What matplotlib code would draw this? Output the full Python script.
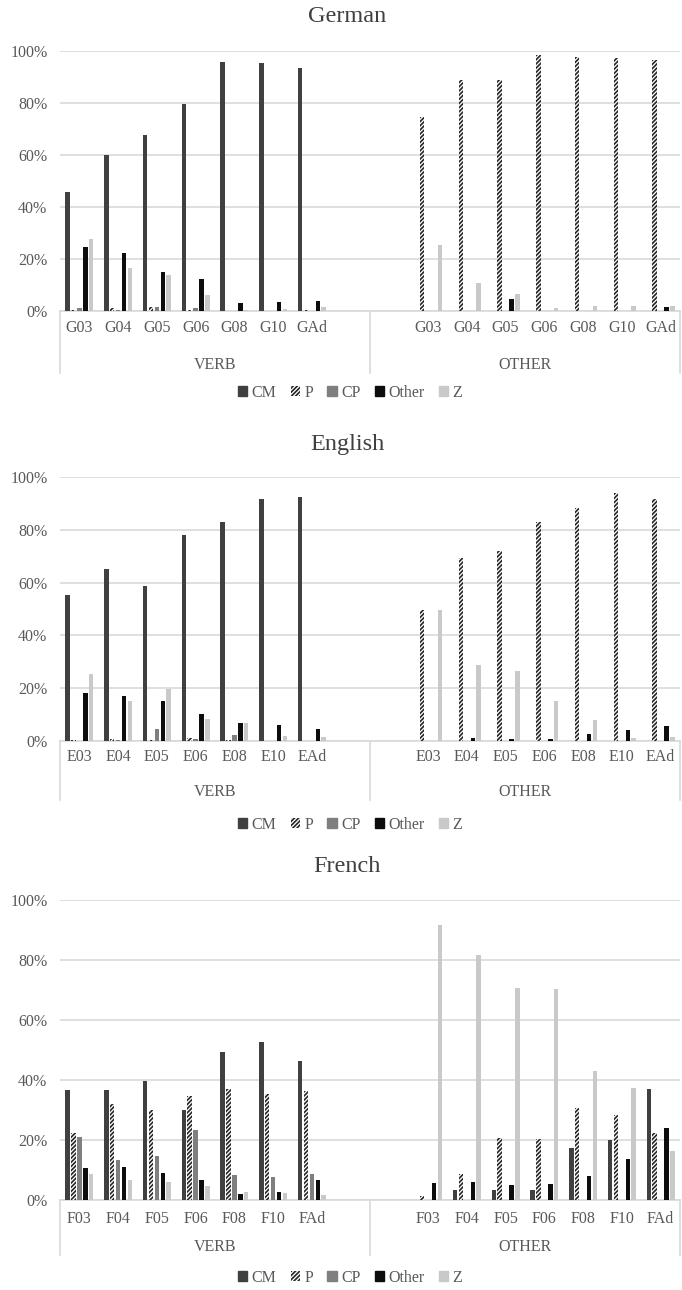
import matplotlib
matplotlib.use('Agg')
import matplotlib.pyplot as plt
from matplotlib.patches import Patch
from matplotlib.transforms import offset_copy
import numpy as np

plt.rcParams['font.family'] = ['Liberation Serif', 'DejaVu Serif']
plt.rcParams['hatch.linewidth'] = 1.2

series_names = ['CM', 'P', 'CP', 'Other', 'Z']
group_names = ['VERB', 'OTHER']

# first 7 values are VERB, last 7 are OTHER
german_labels = ['G03', 'G04', 'G05', 'G06', 'G08', 'G10', 'GAd']
german_cm = [45.7, 59.9, 67.6, 79.7, 95.9, 95.2, 93.4, 0, 0, 0, 0, 0, 0, 0]
german_p = [0.4, 1.0, 1.5, 0.5, 0, 0, 0.4, 74.6, 89.0, 89.0, 98.3, 97.7, 97.4, 96.6]
german_cp = [1.0, 0.5, 1.5, 1.2, 0, 0, 0, 0, 0, 0, 0, 0, 0, 0]
german_other = [24.6, 22.3, 15.0, 12.3, 3.0, 3.5, 4.0, 0, 0, 4.5, 0, 0, 0, 1.5]
german_z = [27.6, 16.5, 13.9, 6.1, 0.5, 0.8, 1.5, 25.2, 10.6, 6.4, 1.3, 1.8, 1.9, 1.9]

english_labels = ['E03', 'E04', 'E05', 'E06', 'E08', 'E10', 'EAd']
english_cm = [55.2, 65.0, 58.6, 78.1, 82.8, 91.6, 92.5, 0, 0, 0, 0, 0, 0, 0]
english_p = [0.5, 0.8, 0.3, 1.0, 0.3, 0, 0, 49.5, 69.2, 72.1, 83.1, 88.2, 93.9, 91.8]
english_cp = [0, 0.5, 4.7, 0.8, 2.4, 0, 0, 0, 0, 0, 0, 0, 0, 0]
english_other = [18.2, 17.2, 15.3, 10.3, 6.8, 6.0, 4.7, 0, 1.0, 0.6, 0.6, 2.8, 4.1, 5.7]
english_z = [25.2, 15.0, 19.6, 8.4, 6.9, 2.0, 1.7, 49.7, 28.7, 26.4, 15.0, 8.0, 1.3, 1.5]

french_labels = ['F03', 'F04', 'F05', 'F06', 'F08', 'F10', 'FAd']
french_cm = [36.7, 36.7, 39.8, 30.1, 49.3, 52.7, 46.4, 0, 3.3, 3.3, 3.3, 17.4, 19.9, 37.0]
french_p = [22.3, 32.1, 30.0, 34.7, 37.1, 35.2, 36.2, 1.5, 8.6, 20.7, 20.3, 30.8, 28.4, 22.2]
french_cp = [21.0, 13.2, 14.6, 23.4, 8.5, 7.8, 8.8, 0, 0, 0, 0, 0, 0, 0]
french_other = [10.8, 11.1, 9.1, 6.8, 2.0, 2.6, 6.6, 5.7, 6.0, 4.9, 5.5, 7.9, 13.7, 24.0]
french_z = [8.7, 6.6, 5.9, 4.8, 2.6, 2.3, 1.6, 91.7, 81.6, 70.7, 70.4, 42.9, 37.3, 16.2]

yticks = [0, 20, 40, 60, 80, 100]

styles = [
    dict(color='#404040'),
    dict(facecolor='white', edgecolor='#262626', hatch='////////', linewidth=0),
    dict(color='#7f7f7f'),
    dict(color='#0d0d0d'),
    dict(color='#c9c9c9'),
]

TEXT = '#595959'
GRID = '#d9d9d9'

W, H = 682, 1290
fig = plt.figure(figsize=(W / 100, H / 100), dpi=100)

# title, tick labels, series, axes top/bottom px, label/group offsets, separator length, legend y, title y
panels = [
    ('German', german_labels,
     [german_cm, german_p, german_cp, german_other, german_z], 51, 311, 17, 54, 62, 393, 16),
    ('English', english_labels,
     [english_cm, english_p, english_cp, english_other, english_z], 477, 741, 16, 51, 59, 825, 444),
    ('French', french_labels,
     [french_cm, french_p, french_cp, french_other, french_z], 900, 1200, 19, 47, 55, 1278, 867),
]

x_verb = np.arange(7)
x_other = np.arange(9, 16)
slots = np.concatenate([x_verb, x_other])
pitch = 0.152
bw = 0.116

for title, labels, data, top, bottom, lab_off, grp_off, line_len, leg_y, title_y in panels:
    ax = fig.add_axes([60 / W, 1 - bottom / H, 620 / W, (bottom - top) / H])
    for i, vals in enumerate(data):
        ax.bar(slots + (i - 2) * pitch, vals, width=bw, zorder=3, **styles[i])

    ax.set_xlim(-0.5, 15.5)
    ax.set_ylim(0, 100)
    ax.set_yticks(yticks)
    ax.set_yticklabels([f'{v}%' for v in yticks])
    ax.tick_params(axis='y', length=0, pad=9, labelsize=11.5, labelcolor=TEXT)
    ax.set_xticks([])
    ax.grid(axis='y', color=GRID, linewidth=1.2, zorder=0)
    for s in ['top', 'right', 'left']:
        ax.spines[s].set_visible(False)
    ax.spines['bottom'].set_color(GRID)
    ax.spines['bottom'].set_linewidth(1.2)

    xt = ax.get_xaxis_transform()
    for x, lab in zip(slots, labels + labels):
        ax.text(x, 0, lab, transform=offset_copy(xt, fig=fig, y=-lab_off, units='dots'),
                ha='center', va='center', fontsize=11.5, color=TEXT)
    for x, lab in zip([3.5, 11.5], group_names):
        ax.text(x, 0, lab, transform=offset_copy(xt, fig=fig, y=-grp_off, units='dots'),
                ha='center', va='center', fontsize=11.5, color=TEXT)
    # separators of the two-level category axis
    frac = line_len / (bottom - top)
    for x in [-0.5, 7.5, 15.5]:
        ax.plot([x, x], [0, -frac], transform=xt, color=GRID, linewidth=1.2, clip_on=False)

    fig.text(347 / W, 1 - title_y / H, title, ha='center', va='center',
             fontsize=17.5, color='#404040')

    handles = [Patch(**styles[i], label=series_names[i]) for i in range(5)]
    fig.legend(handles=handles, loc='center', bbox_to_anchor=(350 / W, 1 - leg_y / H),
               ncol=5, frameon=False, fontsize=11.5, handlelength=0.6, handleheight=0.6,
               handletextpad=0.25, columnspacing=0.9, labelcolor=TEXT)

plt.savefig('out.png', dpi=100)
